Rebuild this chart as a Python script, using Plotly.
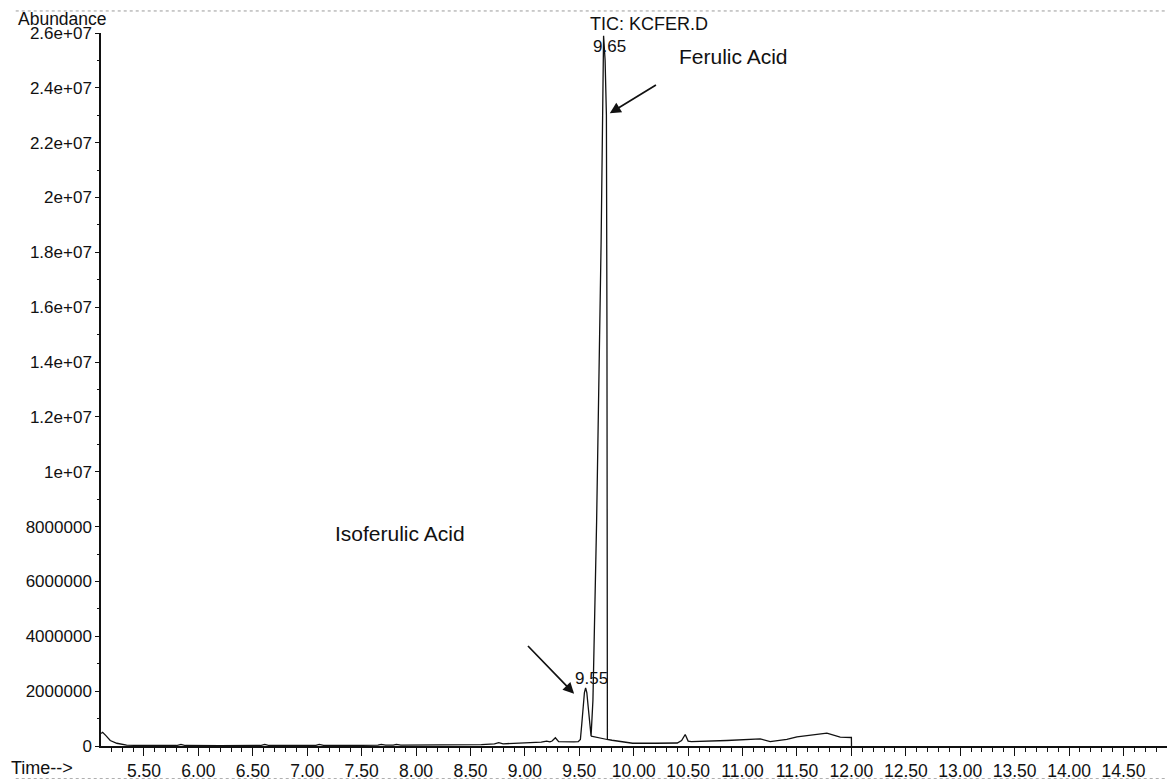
import plotly.graph_objects as go

# ---- data ----
time_min = [5.106, 5.12, 5.15, 5.19, 5.25, 5.34, 5.45, 5.60, 5.80, 5.84, 5.88, 6.20, 6.57, 6.61, 6.65,
            7.00, 7.08, 7.11, 7.15, 7.50, 7.65, 7.68, 7.72, 7.79, 7.82, 7.86, 8.00, 8.30, 8.60, 8.72,
            8.76, 8.80, 9.00, 9.15, 9.20, 9.23, 9.25, 9.28, 9.31, 9.35, 9.45, 9.49, 9.51, 9.523,
            9.535, 9.547, 9.558, 9.569, 9.581, 9.593, 9.603, 9.608, 9.625, 9.659, 9.700, 9.714,
            9.723, 9.737, 9.749, 9.754, 9.756, 9.758, 9.80, 9.90, 9.99, 10.20, 10.40, 10.44, 10.473,
            10.50, 10.53, 10.856, 11.04, 11.162, 11.254, 11.407, 11.50, 11.65, 11.775, 11.897,
            12.00, 12.001]
abundance = [4.6e5, 5.0e5, 3.8e5, 2.0e5, 1.0e5, 3.0e4, 2.0e4, 1.5e4, 1.8e4, 6.0e4, 1.8e4, 1.5e4, 1.8e4,
             6.0e4, 1.8e4, 2.0e4, 2.5e4, 6.0e4, 2.5e4, 2.5e4, 3.0e4, 6.0e4, 3.0e4, 3.0e4, 6.0e4, 3.0e4,
             3.0e4, 3.0e4, 5.0e4, 8.0e4, 1.2e5, 8.0e4, 1.0e5, 1.4e5, 1.8e5, 1.5e5, 1.8e5, 3.0e5, 1.6e5,
             1.5e5, 1.5e5, 1.6e5, 2.4e5, 8.2e5, 1.45e6, 1.95e6, 2.12e6, 1.95e6, 1.45e6, 8.5e5, 4.5e5,
             3.6e5, 1.66e6, 8.2e6, 1.83e7, 2.26e7, 2.59e7, 2.5e7, 2.3e7, 1.5e7, 5.0e6, 2.4e5, 2.1e5,
             1.5e5, 1.0e5, 1.0e5, 1.1e5, 2.0e5, 4.2e5, 1.8e5, 1.6e5, 2.0e5, 2.4e5, 2.6e5, 1.6e5, 2.4e5,
             3.3e5, 4.2e5, 4.7e5, 3.2e5, 3.1e5, 0.0]

# drawn baseline under the main peak
base_time = [9.608, 9.756]
base_abund = [3.6e5, 2.4e5]

y_tickvals = [0, 2e6, 4e6, 6e6, 8e6, 1e7, 1.2e7, 1.4e7, 1.6e7, 1.8e7, 2e7, 2.2e7, 2.4e7, 2.6e7]
y_ticktext = ["0", "2000000", "4000000", "6000000", "8000000", "1e+07", "1.2e+07", "1.4e+07",
              "1.6e+07", "1.8e+07", "2e+07", "2.2e+07", "2.4e+07", "2.6e+07"]

peak_labels = ["9.65", "9.55"]
peak_label_pos = [(9.774, 2.549e7), (9.609, 2.46e6)]

compound_names = ["Ferulic Acid", "Isoferulic Acid"]
compound_pos = [(10.914, 2.513e7), (7.853, 7.76e6)]
# arrows: (tip_t, tip_y, tail_t, tail_y)
arrows = [(9.78, 2.307e7, 10.218, 2.414e7), (9.452, 1.905e6, 9.015, 3.70e6)]

FONT = "Liberation Sans, Arial, Helvetica, sans-serif"

fig = go.Figure()
fig.add_trace(go.Scatter(x=time_min, y=abundance, mode="lines",
                         line=dict(color="#111111", width=1.3), showlegend=False,
                         hoverinfo="x+y"))
fig.add_trace(go.Scatter(x=base_time, y=base_abund, mode="lines",
                         line=dict(color="#111111", width=1.1), showlegend=False,
                         hoverinfo="skip"))

annotations = []
for txt, (px, py) in zip(peak_labels, peak_label_pos):
    annotations.append(dict(x=px, y=py, xref="x", yref="y", text=txt, showarrow=False,
                            font=dict(size=17, color="#111111", family=FONT)))
for txt, (px, py) in zip(compound_names, compound_pos):
    annotations.append(dict(x=px, y=py, xref="x", yref="y", text=txt, showarrow=False,
                            font=dict(size=21, color="#111111", family=FONT)))
for (tx, ty, sx, sy) in arrows:
    annotations.append(dict(x=tx, y=ty, ax=sx, ay=sy, xref="x", yref="y", axref="x", ayref="y",
                            text="", showarrow=True, arrowhead=2, arrowsize=1.3, arrowwidth=1.7,
                            arrowcolor="#111111"))
annotations += [
    dict(x=-0.0797, y=1.0196, xref="paper", yref="paper", xanchor="left", yanchor="middle",
         text="Abundance", showarrow=False, font=dict(size=17.5, color="#111111", family=FONT)),
    dict(x=0.4568, y=1.0126, xref="paper", yref="paper", xanchor="left", yanchor="middle",
         text="TIC: KCFER.D", showarrow=False, font=dict(size=18, color="#111111", family=FONT)),
    dict(x=-0.0864, y=-0.0302, xref="paper", yref="paper", xanchor="left", yanchor="middle",
         text="Time-->", showarrow=False, font=dict(size=18, color="#111111", family=FONT)),
]

shapes = [
    dict(type="line", xref="paper", yref="paper", x0=-0.08, x1=1.0, y0=1.0309, y1=1.0309,
         line=dict(color="#9a9a9a", width=1, dash="dot")),
    dict(type="line", xref="paper", yref="paper", x0=-0.08, x1=1.0, y0=-0.0456, y1=-0.0456,
         line=dict(color="#b0b0b0", width=1, dash="dot")),
]

fig.update_layout(
    width=1167, height=781,
    margin=dict(l=101, r=0, t=33, b=35),
    paper_bgcolor="white", plot_bgcolor="white",
    font=dict(family=FONT, size=17, color="#111111"),
    annotations=annotations, shapes=shapes,
    showlegend=False,
)
fig.update_xaxes(range=[5.105, 14.9], tick0=5.0, dtick=0.5, tickformat=".2f",
                 showgrid=False, zeroline=False, showline=True, linecolor="#111111", linewidth=1.5,
                 ticks="outside", ticklen=8, tickwidth=1.2, tickcolor="#111111",
                 tickfont=dict(size=17.5, family=FONT, color="#111111"),
                 minor=dict(dtick=0.1, tick0=5.0, ticks="outside", ticklen=4, tickwidth=1,
                            tickcolor="#111111", showgrid=False))
fig.update_yaxes(range=[0, 2.6e7], tickmode="array", tickvals=y_tickvals, ticktext=y_ticktext,
                 showgrid=False, zeroline=False, showline=True, linecolor="#111111", linewidth=1.5,
                 ticks="outside", ticklen=4, tickwidth=1, tickcolor="#111111",
                 tickfont=dict(size=17, family=FONT, color="#111111"),
                 minor=dict(dtick=1e6, tick0=0, ticks="outside", ticklen=2, tickwidth=1,
                            tickcolor="#111111", showgrid=False))

fig.write_html("out.html")
